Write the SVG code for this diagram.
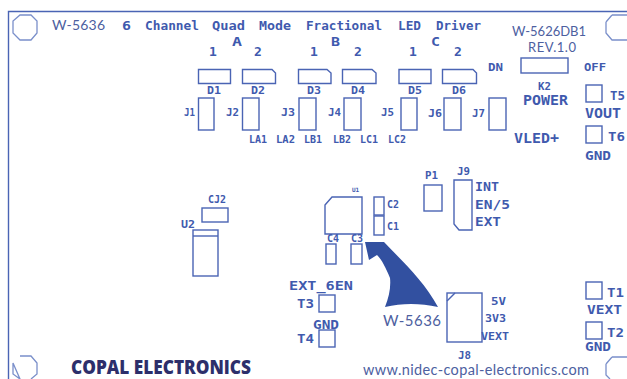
<svg xmlns="http://www.w3.org/2000/svg" width="627" height="379" viewBox="0 0 627 379">
<style>
.s{fill:none;stroke:#4a64b4;stroke-width:1.4}
.o{fill:none;stroke:#7a8fca;stroke-width:1.3}
text{font-family:"DejaVu Sans Mono","Liberation Mono",monospace;fill:#3f5aae;font-weight:bold}
.l{font-family:Lato,"Open Sans",sans-serif;font-weight:400;fill:#4d609f}
.t{font-size:13px}.m{font-size:10px}.b{font-size:14px}
</style>
<rect width="627" height="379" fill="#fff"/>
<g id="board"><path class="s" d="M8.500 379V11.500H627"/></g>
<g id="holes">
<path class="o" d="M20 15H31L37 21V33L31 40H20L13 33V21Z"/>
<path class="o" d="M612 15H627M606 22L612 15M606 22V33L612 40H627"/>
<path class="o" d="M20 356H31L37 363V374L31 379M20 379L13 374V363Z"/>
<path class="o" d="M612 357H627M606 364L612 357M606 364V375L610 379"/>
</g>
<g id="title">
<text class="l" x="52" y="30" font-size="14" textLength="53">W-5636</text>
<text class="t" x="122" y="30" textLength="9" lengthAdjust="spacingAndGlyphs">6</text>
<text class="t" x="145" y="30" textLength="54" lengthAdjust="spacingAndGlyphs">Channel</text>
<text class="t" x="212" y="30" textLength="33" lengthAdjust="spacingAndGlyphs">Quad</text>
<text class="t" x="259" y="30" textLength="32" lengthAdjust="spacingAndGlyphs">Mode</text>
<text class="t" x="306" y="30" textLength="76" lengthAdjust="spacingAndGlyphs">Fractional</text>
<text class="t" x="398" y="30" textLength="23" lengthAdjust="spacingAndGlyphs">LED</text>
<text class="t" x="436" y="30" textLength="45" lengthAdjust="spacingAndGlyphs">Driver</text>
<text class="l" x="512" y="36" font-size="13" textLength="74">W-5626DB1</text>
<text class="l" x="528" y="52" font-size="13" textLength="48">REV.1.0</text>
<text class="t" x="232" y="46" textLength="10" lengthAdjust="spacingAndGlyphs">A</text>
<text class="t" x="331" y="46" textLength="9" lengthAdjust="spacingAndGlyphs">B</text>
<text class="t" x="431" y="46" textLength="9" lengthAdjust="spacingAndGlyphs">C</text>
<text class="t" x="209" y="55.500">1</text><text class="t" x="254" y="55.500">2</text>
<text class="t" x="310" y="55.500">1</text><text class="t" x="354" y="55.500">2</text>
<text class="t" x="409" y="55.500">1</text><text class="t" x="454" y="55.500">2</text>
</g>
<g id="D1"><path class="s" d="M198.500 69.500H230.500V83.500H198.500Z"/><text class="m" x="207" y="94" textLength="14" lengthAdjust="spacingAndGlyphs">D1</text></g>
<g id="D2"><path class="s" d="M242.500 69.500H272L275.500 73V83.500H242.500Z"/><text class="m" x="251" y="94" textLength="14" lengthAdjust="spacingAndGlyphs">D2</text></g>
<g id="D3"><path class="s" d="M298.500 69.500H327L331 73V83.500H298.500Z"/><text class="m" x="307" y="94" textLength="14" lengthAdjust="spacingAndGlyphs">D3</text></g>
<g id="D4"><path class="s" d="M342.500 69.500H372L376 73V83.500H342.500Z"/><text class="m" x="351" y="94" textLength="14" lengthAdjust="spacingAndGlyphs">D4</text></g>
<g id="D5"><path class="s" d="M399 69.500H431V83.500H399Z"/><text class="m" x="408" y="94" textLength="14" lengthAdjust="spacingAndGlyphs">D5</text></g>
<g id="D6"><path class="s" d="M442.500 69.500H473L476.500 73V83.500H442.500Z"/><text class="m" x="452" y="94" textLength="14" lengthAdjust="spacingAndGlyphs">D6</text></g>
<g id="J1"><rect class="s" x="198.500" y="98" width="15.500" height="32"/><text class="m" x="184" y="116" textLength="11" lengthAdjust="spacingAndGlyphs">J1</text></g>
<g id="J2"><rect class="s" x="242.500" y="98" width="16.500" height="32"/><text class="m" x="226" y="116" textLength="13" lengthAdjust="spacingAndGlyphs">J2</text></g>
<g id="J3"><rect class="s" x="299" y="98" width="17" height="32"/><text class="m" x="281" y="116" textLength="14" lengthAdjust="spacingAndGlyphs">J3</text></g>
<g id="J4"><rect class="s" x="344" y="98" width="17" height="32"/><text class="m" x="328" y="116" textLength="13" lengthAdjust="spacingAndGlyphs">J4</text></g>
<g id="J5"><rect class="s" x="401" y="98" width="16" height="32"/><text class="m" x="381" y="116" textLength="13" lengthAdjust="spacingAndGlyphs">J5</text></g>
<g id="J6"><rect class="s" x="444" y="98" width="17" height="32"/><text class="m" x="428" y="117" textLength="14" lengthAdjust="spacingAndGlyphs">J6</text></g>
<g id="J7"><rect class="s" x="489" y="98" width="17" height="32"/><text class="m" x="472" y="117" textLength="13" lengthAdjust="spacingAndGlyphs">J7</text></g>
<g id="test-labels">
<text class="m" x="249" y="143" textLength="18" lengthAdjust="spacingAndGlyphs">LA1</text>
<text class="m" x="276" y="143" textLength="19" lengthAdjust="spacingAndGlyphs">LA2</text>
<text class="m" x="304" y="143" textLength="18" lengthAdjust="spacingAndGlyphs">LB1</text>
<text class="m" x="333" y="143" textLength="18" lengthAdjust="spacingAndGlyphs">LB2</text>
<text class="m" x="360" y="143" textLength="18" lengthAdjust="spacingAndGlyphs">LC1</text>
<text class="m" x="388" y="143" textLength="18" lengthAdjust="spacingAndGlyphs">LC2</text>
</g>
<g id="K2"><rect class="s" x="521" y="58" width="47" height="15"/>
<text class="m" x="488" y="71" textLength="15" lengthAdjust="spacingAndGlyphs">DN</text>
<text class="m" style="font-size:11px" x="584" y="71" textLength="22" lengthAdjust="spacingAndGlyphs">OFF</text>
<text class="m" x="538" y="90" textLength="13" lengthAdjust="spacingAndGlyphs">K2</text>
<text class="b" x="523" y="105" textLength="45" lengthAdjust="spacingAndGlyphs">POWER</text></g>
<text class="b" x="514" y="143" textLength="45" lengthAdjust="spacingAndGlyphs">VLED+</text>
<g id="T5"><rect class="s" x="586" y="85" width="16" height="17"/><text class="t" x="610" y="100" textLength="15" lengthAdjust="spacingAndGlyphs">T5</text><text class="b" x="585" y="118" textLength="36" lengthAdjust="spacingAndGlyphs">VOUT</text></g>
<g id="T6"><rect class="s" x="586" y="126" width="16" height="17"/><text class="t" x="608" y="141" textLength="17" lengthAdjust="spacingAndGlyphs">T6</text><text class="t" x="585" y="160" textLength="26" lengthAdjust="spacingAndGlyphs">GND</text></g>
<g id="P1"><rect class="s" x="424" y="185" width="18" height="26"/><text class="m" x="425" y="179" textLength="13" lengthAdjust="spacingAndGlyphs">P1</text></g>
<g id="J9"><path class="s" d="M454 180H472V230H459L454 224Z"/><text class="m" x="457" y="175" textLength="13" lengthAdjust="spacingAndGlyphs">J9</text>
<text class="t" x="475" y="191" textLength="24" lengthAdjust="spacingAndGlyphs">INT</text><text class="t" x="475" y="209" textLength="35" lengthAdjust="spacingAndGlyphs">EN/5</text><text class="t" x="475" y="226" textLength="26" lengthAdjust="spacingAndGlyphs">EXT</text></g>
<g id="U1"><path class="s" d="M325 205L332 197H362V234H325Z"/><text class="m" style="font-size:6px" x="352" y="192">U1</text></g>
<g id="C2"><rect class="s" x="374" y="197" width="10" height="18"/><text class="m" x="387" y="208" textLength="12" lengthAdjust="spacingAndGlyphs">C2</text></g>
<g id="C1"><rect class="s" x="374" y="216" width="10" height="19"/><text class="m" x="387" y="230" textLength="12" lengthAdjust="spacingAndGlyphs">C1</text></g>
<g id="C4"><rect class="s" x="326" y="244" width="10" height="20"/><text class="m" x="327" y="242" textLength="12" lengthAdjust="spacingAndGlyphs">C4</text></g>
<g id="C3"><rect class="s" x="351" y="244" width="11" height="20"/><text class="m" x="351" y="242" textLength="12" lengthAdjust="spacingAndGlyphs">C3</text></g>
<g id="CJ2"><rect class="s" x="202" y="208" width="26" height="14"/><text class="m" x="208" y="203" textLength="18" lengthAdjust="spacingAndGlyphs">CJ2</text></g>
<g id="U2"><rect class="s" x="193" y="230" width="25" height="46"/><path class="s" d="M193 236H218"/><text class="m" x="181" y="228" textLength="14" lengthAdjust="spacingAndGlyphs">U2</text></g>
<g id="T3"><rect class="s" x="319" y="295" width="16" height="17"/><text class="t" x="289" y="290" textLength="64" lengthAdjust="spacingAndGlyphs">EXT_6EN</text><text class="t" x="297" y="308" textLength="17" lengthAdjust="spacingAndGlyphs">T3</text></g>
<g id="T4"><rect class="s" x="319" y="330" width="16" height="17"/><text class="t" x="313" y="329" textLength="26" lengthAdjust="spacingAndGlyphs">GND</text><text class="t" x="297" y="343" textLength="17" lengthAdjust="spacingAndGlyphs">T4</text></g>
<g id="J8"><rect class="s" x="447" y="293" width="35" height="49"/><path class="s" d="M447 301L455 293"/>
<text class="m" x="491" y="305" textLength="15" lengthAdjust="spacingAndGlyphs">5V</text>
<text class="m" x="485" y="322" textLength="21" lengthAdjust="spacingAndGlyphs">3V3</text>
<text class="m" x="481" y="340" textLength="28" lengthAdjust="spacingAndGlyphs">VEXT</text>
<text class="m" x="458" y="359" textLength="13" lengthAdjust="spacingAndGlyphs">J8</text></g>
<g id="T1"><rect class="s" x="586" y="282" width="16" height="17"/><text class="t" x="607" y="297" textLength="17" lengthAdjust="spacingAndGlyphs">T1</text><text class="t" x="587" y="314" textLength="35" lengthAdjust="spacingAndGlyphs">VEXT</text></g>
<g id="T2"><rect class="s" x="586" y="322" width="16" height="17"/><text class="t" x="607" y="337" textLength="17" lengthAdjust="spacingAndGlyphs">T2</text><text class="t" x="585" y="351" textLength="26" lengthAdjust="spacingAndGlyphs">GND</text></g>
<g id="logo"><path fill="#3250a0" d="M365 242L384 242C403 262 424 281 438 307C420 303 402 303 385 307C389 297 391 287 390 278C386 268 382 260 377 255L369 260Z"/></g>
<text class="l" x="383" y="326" font-size="15" textLength="58">W-5636</text>
<text style="font-family:'Open Sans',sans-serif;font-weight:800;fill:#2d2f6b" x="71" y="374" font-size="20" textLength="180" lengthAdjust="spacingAndGlyphs">COPAL ELECTRONICS</text>
<text class="l" x="363" y="375" font-size="14.500" textLength="226">www.nidec-copal-electronics.com</text>
</svg>
